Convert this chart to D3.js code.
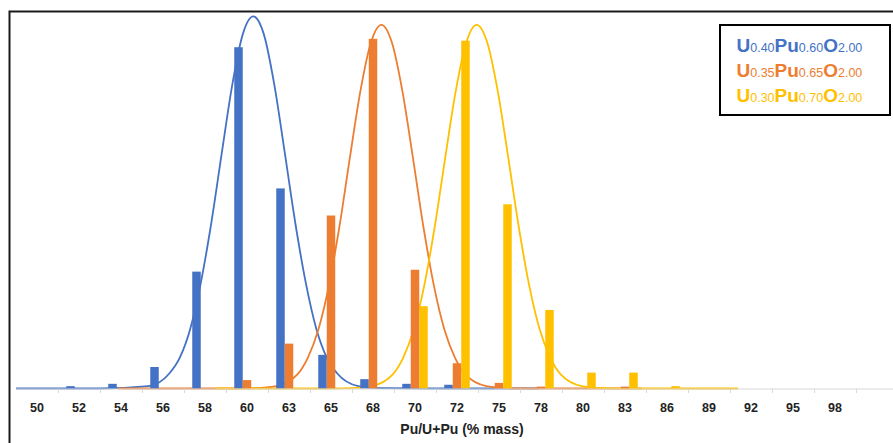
<!DOCTYPE html>
<html>
<head>
<meta charset="utf-8">
<script src="https://cdn.jsdelivr.net/npm/d3@7"></script>
<style>
    body { margin: 0; background: #fff; }
    #chart-area { width: 893px; height: 443px; }
    .axis-label { font-family: "Liberation Sans", Arial, sans-serif; font-weight: bold; fill: #222; }
</style>
</head>
<body>
<div id="chart-area"></div>
<script>

// categories on the x axis (Pu/U+Pu, % mass); last slot has no label
let categories = ["50", "52", "54", "56", "58", "60", "63", "65", "68", "70", "72", "75", "78", "80", "83", "86", "89", "92", "95", "98", ""];

// bar heights per category
let blueBars   = [0, 0.25, 0.5, 2.3, 12.5, 36.5, 21.4, 3.6, 1.0, 0.5, 0.4, 0, 0, 0, 0, 0, 0, 0, 0, 0, 0];
let orangeBars = [0, 0, 0, 0, 0, 0.9, 4.8, 18.5, 37.4, 12.7, 2.7, 0.6, 0.2, 0, 0.2, 0, 0, 0, 0, 0, 0];
let yellowBars = [0, 0, 0, 0, 0, 0, 0, 0, 0, 8.8, 37.2, 19.7, 8.4, 1.7, 1.7, 0.25, 0, 0, 0, 0, 0];

// fitted curves, x in category slots (0 = left edge of "50")
let blueCurveX = [0, 2.0, 3.15, 3.65, 3.9, 4.15, 4.4, 4.65, 4.9, 5.15, 5.4, 5.65, 5.9, 6.15, 6.4, 6.65, 6.9, 7.15, 7.4, 7.65, 8.15, 8.65, 10.0, 12.45];
let blueCurveY = [0, 0, 0.25, 1.6, 3.3, 6.4, 11.3, 17.7, 25.2, 32.5, 37.9, 39.8, 37.9, 32.5, 25.2, 17.7, 11.3, 6.4, 3.3, 1.6, 0.25, 0.03, 0, 0];
let orangeCurveX = [2.43, 5.2, 5.7, 6.2, 6.7, 6.95, 7.2, 7.45, 7.7, 7.95, 8.2, 8.45, 8.7, 8.95, 9.2, 9.45, 9.7, 9.95, 10.2, 10.45, 10.7, 11.2, 11.7, 12.2, 14.9];
let orangeCurveY = [0, 0, 0.03, 0.25, 1.5, 3.3, 6.3, 11.0, 17.3, 24.7, 31.8, 37.0, 38.9, 37.0, 31.8, 24.7, 17.3, 11.0, 6.3, 3.3, 1.5, 0.25, 0.03, 0, 0];
let yellowCurveX = [4.74, 7.47, 7.97, 8.47, 8.97, 9.22, 9.47, 9.72, 9.97, 10.22, 10.47, 10.72, 10.97, 11.22, 11.47, 11.72, 11.97, 12.22, 12.47, 12.72, 12.97, 13.47, 13.97, 14.47, 17.19];
let yellowCurveY = [0, 0, 0.03, 0.25, 1.5, 3.3, 6.3, 11.0, 17.3, 24.7, 31.8, 37.0, 38.9, 37.0, 31.8, 24.7, 17.3, 11.0, 6.3, 3.3, 1.5, 0.25, 0.03, 0, 0];

// legend: U(x)Pu(y)O(2)
let uFractions = ["0.40", "0.35", "0.30"];
let puFractions = ["0.60", "0.65", "0.70"];
let oFraction = "2.00";

let seriesColors = ["#4472C4", "#ED7D31", "#FFC000"];
let xTitle = "Pu/U+Pu (% mass)";


class compositionChart {
    constructor(parentContainer) {
        this.parentContainer = parentContainer;
        this.initVis();
    }

    initVis() {
        let vis = this;

        vis.width = 893;
        vis.height = 443;
        vis.plotLeft = 16;
        vis.plotRight = 898;
        vis.baseline = 388.5;

        vis.svg = d3.select("#" + vis.parentContainer)
            .append("svg")
            .attr("width", vis.width)
            .attr("height", vis.height);

        // outer frame (runs off the right and bottom edges)
        vis.svg.append("rect")
            .attr("x", 9.5)
            .attr("y", 11.5)
            .attr("width", 1000)
            .attr("height", 1000)
            .attr("fill", "#fff")
            .attr("stroke", "#1a1a1a")
            .attr("stroke-width", 2);

        vis.xScale = d3.scaleBand()
            .domain(categories)
            .range([vis.plotLeft, vis.plotRight])
            .padding(0);

        vis.xInner = d3.scaleBand()
            .domain([0, 1, 2])
            .range([8.25, 33.75])
            .padding(0);

        vis.xSlot = d3.scaleLinear()
            .domain([0, categories.length])
            .range([vis.plotLeft, vis.plotRight]);

        vis.yScale = d3.scaleLinear()
            .domain([0, 40])
            .range([vis.baseline, 14.5]);

        vis.wrangleData();
    }

    wrangleData() {
        let vis = this;

        vis.barData = [];
        [blueBars, orangeBars, yellowBars].forEach((values, s) => {
            values.forEach((v, i) => {
                if (v > 0) vis.barData.push({cat: categories[i], series: s, value: v});
            });
        });

        vis.curveData = [
            blueCurveX.map((x, i) => ({x: x, y: blueCurveY[i]})),
            orangeCurveX.map((x, i) => ({x: x, y: orangeCurveY[i]})),
            yellowCurveX.map((x, i) => ({x: x, y: yellowCurveY[i]}))
        ];

        vis.updateVis();
    }

    updateVis() {
        let vis = this;

        const line = d3.line()
            .x(d => vis.xSlot(d.x))
            .y(d => vis.yScale(d.y))
            .curve(d3.curveMonotoneX);

        // curves sit underneath the bars
        vis.svg.selectAll(".curve")
            .data(vis.curveData)
            .enter().append("path")
            .attr("class", "curve")
            .attr("d", line)
            .attr("fill", "none")
            .attr("stroke", (d, i) => seriesColors[i])
            .attr("stroke-width", 1.8);

        vis.svg.selectAll(".bar")
            .data(vis.barData)
            .enter().append("rect")
            .attr("class", "bar")
            .attr("x", d => vis.xScale(d.cat) + vis.xInner(d.series))
            .attr("y", d => vis.yScale(d.value))
            .attr("width", vis.xInner.bandwidth())
            .attr("height", d => vis.baseline - vis.yScale(d.value))
            .attr("fill", d => seriesColors[d.series]);

        // x axis: light line, ticks between categories, bold labels
        vis.svg.append("line")
            .attr("x1", vis.plotLeft)
            .attr("x2", vis.plotRight)
            .attr("y1", 389)
            .attr("y2", 389)
            .attr("stroke", "#d9d9d9")
            .attr("stroke-width", 1);

        vis.svg.selectAll(".sep-tick")
            .data(categories.slice(1))
            .enter().append("line")
            .attr("class", "sep-tick")
            .attr("x1", d => Math.round(vis.xScale(d)) + 0.5)
            .attr("x2", d => Math.round(vis.xScale(d)) + 0.5)
            .attr("y1", 389)
            .attr("y2", 393)
            .attr("stroke", "#d9d9d9");

        let xAxis = vis.svg.append("g")
            .attr("class", "x-axis")
            .attr("transform", "translate(0,389)")
            .call(d3.axisBottom(vis.xScale).tickSize(0).tickPadding(14));

        xAxis.select(".domain").remove();
        xAxis.selectAll("text")
            .attr("class", "axis-label")
            .style("font-size", "12.5px");

        vis.svg.append("text")
            .attr("class", "axis-label")
            .attr("x", 462)
            .attr("y", 433.5)
            .attr("text-anchor", "middle")
            .style("font-size", "14px")
            .text(xTitle);

        // legend box
        let legend = vis.svg.append("g").attr("class", "legend");

        legend.append("rect")
            .attr("x", 720)
            .attr("y", 25)
            .attr("width", 170)
            .attr("height", 90)
            .attr("fill", "#fff")
            .attr("stroke", "#000")
            .attr("stroke-width", 2);

        uFractions.forEach((u, i) => {
            let t = legend.append("text")
                .attr("x", 736.5)
                .attr("y", 52 + i * 25)
                .attr("fill", seriesColors[i])
                .style("font-family", "'Liberation Sans', Arial, sans-serif");

            let parts = [["U", true], [u, false], ["Pu", true], [puFractions[i], false], ["O", true], [oFraction, false]];
            parts.forEach(p => {
                t.append("tspan")
                    .style("font-size", p[1] ? "19px" : "12.5px")
                    .style("font-weight", p[1] ? "bold" : "normal")
                    .text(p[0]);
            });
        });
    }
}

new compositionChart("chart-area");

</script>
</body>
</html>
